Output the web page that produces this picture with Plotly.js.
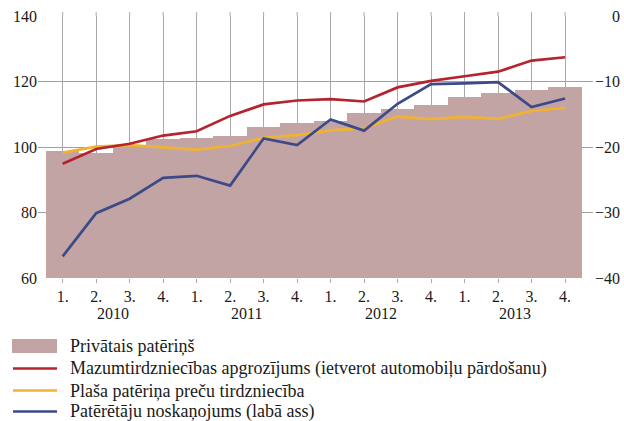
<!DOCTYPE html>
<html>
<head>
<meta charset="utf-8">
<script src="https://cdn.plot.ly/plotly-3.0.1.min.js"></script>
<style>html,body{margin:0;padding:0;background:#fff;}#chart{width:624px;height:421px;}</style>
</head>
<body>
<div id="chart"></div>
<script>
// ---- data ----
const quarterLabels = ["1.","2.","3.","4.","1.","2.","3.","4.","1.","2.","3.","4.","1.","2.","3.","4."];
const years = ["2010","2011","2012","2013"];
const leftTicks = [60, 80, 100, 120, 140];
const rightTicks = [-40, -30, -20, -10, 0];
const privatePatērinš = [98.9, 98.2, 100.5, 102.4, 102.8, 103.5, 106.0, 107.2, 107.8, 110.3, 111.7, 112.8, 115.2, 116.6, 117.4, 118.2];
const retailTurnover = [94.9, 99.4, 101.0, 103.5, 104.8, 109.5, 113.0, 114.2, 114.6, 113.9, 118.2, 120.2, 121.6, 123.0, 126.4, 127.4];
const consumerGoodsTrade = [98.3, 100.1, 100.6, 99.9, 99.2, 100.3, 102.8, 103.6, 105.1, 105.7, 109.3, 108.5, 109.2, 108.6, 111.0, 111.9];
const consumerConfidence = [-36.7, -30.1, -27.9, -24.7, -24.4, -25.9, -18.7, -19.7, -15.8, -17.5, -13.4, -10.4, -10.3, -10.1, -13.9, -12.6];
const seriesNames = [
  "Privātais patēriņš",
  "Mazumtirdzniecības apgrozījums (ietverot automobiļu pārdošanu)",
  "Plaša patēriņa preču tirdzniecība",
  "Patērētāju noskaņojums (labā ass)"
];

// ---- style ----
const colBar = "#c2a4a4", colRed = "#b5232e", colYel = "#f0b232", colBlue = "#3d4a88";
const FONT = "Liberation Serif";
const TXT = "#1a1a1a";
const W = 624, H = 421, L = 38, R = 31, T = 16, B = 143;
const pw = W - L - R, ph = H - T - B;
const px2x = x => (x - L) / pw;
const px2y = y => (H - B - y) / ph;

const xs = quarterLabels.map((_, i) => i);

const traces = [
  {type: "bar", x: xs, y: privatePatērinš, marker: {color: colBar, line: {width: 0}}, name: seriesNames[0], showlegend: false},
  {type: "scatter", mode: "lines", x: xs, y: consumerGoodsTrade, line: {color: colYel, width: 2.7}, name: seriesNames[2], showlegend: false},
  {type: "scatter", mode: "lines", x: xs, y: consumerConfidence, yaxis: "y2", line: {color: colBlue, width: 2.7}, name: seriesNames[3], showlegend: false},
  {type: "scatter", mode: "lines", x: xs, y: retailTurnover, line: {color: colRed, width: 2.7}, name: seriesNames[1], showlegend: false}
];

const annotations = [];
const shapes = [];

// vertical grid overhang above the top gridline
xs.forEach(i => {
  shapes.push({type: "line", xref: "x", yref: "paper", x0: i, x1: i, y0: 1, y1: 1 + 4 / ph,
    line: {color: "#a9a9a9", width: 1}, layer: "below"});
});

// year labels
years.forEach((yr, k) => {
  annotations.push({x: 4 * k + 1.5, xref: "x", y: px2y(313), yref: "paper", text: yr, showarrow: false,
    xanchor: "center", yanchor: "middle", font: {family: FONT, size: 16, color: TXT}});
});

// right axis labels (right aligned)
rightTicks.forEach(v => {
  annotations.push({x: px2x(622), xref: "paper", y: v, yref: "y2", text: (v < 0 ? "\u2212" : "") + Math.abs(v),
    showarrow: false, xanchor: "right", yanchor: "middle", font: {family: FONT, size: 16, color: TXT}});
});

// legend
const legendY = [346, 368.5, 390.5, 411.5];
const legendColors = [colBar, colRed, colYel, colBlue];
seriesNames.forEach((nm, i) => {
  const cy = legendY[i];
  if (i === 0) {
    shapes.push({type: "rect", xref: "paper", yref: "paper", x0: px2x(12), x1: px2x(57), y0: px2y(cy - 7), y1: px2y(cy + 7),
      fillcolor: colBar, line: {width: 0}});
  } else {
    shapes.push({type: "line", xref: "paper", yref: "paper", x0: px2x(13), x1: px2x(57), y0: px2y(cy), y1: px2y(cy),
      line: {color: legendColors[i], width: 2.7}});
  }
  annotations.push({x: px2x(68), xref: "paper", y: px2y(cy), yref: "paper", text: nm, showarrow: false,
    xanchor: "left", yanchor: "middle", font: {family: FONT, size: 18, color: TXT}});
});

const layout = {
  width: W, height: H,
  margin: {l: L, r: R, t: T, b: B, pad: 0},
  paper_bgcolor: "#fff", plot_bgcolor: "#fff",
  font: {family: FONT, size: 16, color: TXT},
  bargap: 0,
  showlegend: false,
  xaxis: {
    range: [-0.737, 15.835],
    tickmode: "array", tickvals: xs, ticktext: quarterLabels,
    showgrid: true, gridcolor: "#a9a9a9", gridwidth: 1,
    zeroline: false, showline: false,
    ticks: "outside", ticklen: 4, tickcolor: "#a9a9a9", tickwidth: 1,
    tickfont: {family: FONT, size: 16, color: TXT}
  },
  yaxis: {
    range: [60, 140], tickvals: leftTicks,
    showgrid: true, gridcolor: "#a0a0a0", gridwidth: 1,
    zeroline: false, showline: false, ticks: "",
    tickfont: {family: FONT, size: 16, color: TXT}
  },
  yaxis2: {
    range: [-40, 0], tickvals: rightTicks,
    overlaying: "y", side: "right", showgrid: false, zeroline: false, showline: false, ticks: "",
    showticklabels: false
  },
  annotations: annotations,
  shapes: shapes
};

Plotly.newPlot("chart", traces, layout, {displayModeBar: false, staticPlot: true});
</script>
</body>
</html>
